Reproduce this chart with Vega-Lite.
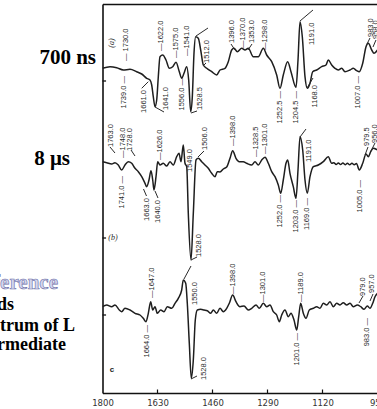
{
  "$schema": "https://vega.github.io/schema/vega-lite/v6.json",
  "autosize": {"type": "none"},
  "width": 275,
  "height": 389,
  "padding": {"left": 102.5, "top": 4, "right": 0, "bottom": 16},
  "background": "white",
  "config": {"view": {"stroke": null}, "axis": {"grid": false}},
  "resolve": {"axis": {"x": "independent", "y": "independent"}},
  "datasets": {
    "spectra": [
      {"trace":"a","wn":1800,"y":324.7},{"trace":"a","wn":1776.8,"y":326.3},{"trace":"a","wn":1756.1,"y":325.3},{"trace":"a","wn":1735.7,"y":323},{"trace":"a","wn":1715,"y":323.7},{"trace":"a","wn":1694.3,"y":321.3},{"trace":"a","wn":1678.8,"y":319},{"trace":"a","wn":1663.4,"y":314.7},{"trace":"a","wn":1653.2,"y":313},{"trace":"a","wn":1647.9,"y":308},{"trace":"a","wn":1643,"y":296.3},{"trace":"a","wn":1637.7,"y":286.3},{"trace":"a","wn":1632.5,"y":293},{"trace":"a","wn":1627.5,"y":316.3},{"trace":"a","wn":1622.3,"y":336.3},{"trace":"a","wn":1613.9,"y":338},{"trace":"a","wn":1603.7,"y":333},{"trace":"a","wn":1593.5,"y":324.7},{"trace":"a","wn":1583,"y":326.3},{"trace":"a","wn":1572.8,"y":330.7},{"trace":"a","wn":1562.6,"y":321.3},{"trace":"a","wn":1555.2,"y":314.7},{"trace":"a","wn":1548.1,"y":319.7},{"trace":"a","wn":1539.7,"y":326.3},{"trace":"a","wn":1533.6,"y":313},{"trace":"a","wn":1527.4,"y":281.3},{"trace":"a","wn":1522.4,"y":296.3},{"trace":"a","wn":1517.2,"y":339.7},{"trace":"a","wn":1511.9,"y":356.3},{"trace":"a","wn":1503.9,"y":354.7},{"trace":"a","wn":1496.5,"y":343},{"trace":"a","wn":1488.4,"y":328},{"trace":"a","wn":1477.9,"y":324.7},{"trace":"a","wn":1462.5,"y":321.3},{"trace":"a","wn":1447,"y":318},{"trace":"a","wn":1436.8,"y":323},{"trace":"a","wn":1421.4,"y":324.7},{"trace":"a","wn":1411.2,"y":331.3},{"trace":"a","wn":1400.7,"y":343},{"trace":"a","wn":1393.5,"y":344.7},{"trace":"a","wn":1383.3,"y":341.3},{"trace":"a","wn":1369.7,"y":344.7},{"trace":"a","wn":1359.5,"y":343},{"trace":"a","wn":1349.3,"y":344.7},{"trace":"a","wn":1333.9,"y":336.3},{"trace":"a","wn":1318.4,"y":336.3},{"trace":"a","wn":1303,"y":344.7},{"trace":"a","wn":1292.5,"y":338},{"trace":"a","wn":1277,"y":331.3},{"trace":"a","wn":1261.6,"y":318},{"trace":"a","wn":1251.4,"y":304.7},{"trace":"a","wn":1241.2,"y":318},{"trace":"a","wn":1227.6,"y":331.3},{"trace":"a","wn":1217.4,"y":321.3},{"trace":"a","wn":1201.9,"y":305.7},{"trace":"a","wn":1195.7,"y":333},{"trace":"a","wn":1189.5,"y":371.3},{"trace":"a","wn":1182.4,"y":356.3},{"trace":"a","wn":1174.1,"y":316.3},{"trace":"a","wn":1167,"y":304.7},{"trace":"a","wn":1158.6,"y":309.7},{"trace":"a","wn":1150.3,"y":321.3},{"trace":"a","wn":1137.9,"y":323},{"trace":"a","wn":1122.5,"y":326.3},{"trace":"a","wn":1109.2,"y":328},{"trace":"a","wn":1102.1,"y":333},{"trace":"a","wn":1091.6,"y":328},{"trace":"a","wn":1081.4,"y":324.7},{"trace":"a","wn":1071.2,"y":323},{"trace":"a","wn":1060.7,"y":324.7},{"trace":"a","wn":1050.5,"y":321.3},{"trace":"a","wn":1035,"y":323},{"trace":"a","wn":1024.8,"y":324.7},{"trace":"a","wn":1014.3,"y":322.3},{"trace":"a","wn":1006.3,"y":321.3},{"trace":"a","wn":995.7,"y":329.7},{"trace":"a","wn":985.5,"y":346.3},{"trace":"a","wn":978.4,"y":349.7},{"trace":"a","wn":967.9,"y":343},{"trace":"a","wn":960.8,"y":339.7},{"trace":"a","wn":950,"y":343},

      {"trace":"b","wn":1800,"y":231.3},{"trace":"b","wn":1787,"y":230.3},{"trace":"b","wn":1771.6,"y":229},{"trace":"b","wn":1761.4,"y":230.3},{"trace":"b","wn":1751.2,"y":228},{"trace":"b","wn":1740.7,"y":223},{"trace":"b","wn":1730.5,"y":228},{"trace":"b","wn":1720.3,"y":231.3},{"trace":"b","wn":1709.7,"y":229.7},{"trace":"b","wn":1699.5,"y":224.7},{"trace":"b","wn":1689.3,"y":221.3},{"trace":"b","wn":1678.8,"y":216.3},{"trace":"b","wn":1668.6,"y":209.7},{"trace":"b","wn":1663.4,"y":206.3},{"trace":"b","wn":1656.3,"y":213},{"trace":"b","wn":1650.1,"y":222.3},{"trace":"b","wn":1644.8,"y":213},{"trace":"b","wn":1640.8,"y":203},{"trace":"b","wn":1634.6,"y":216.3},{"trace":"b","wn":1629.4,"y":231.3},{"trace":"b","wn":1622.3,"y":228},{"trace":"b","wn":1612.1,"y":229.7},{"trace":"b","wn":1601.6,"y":227},{"trace":"b","wn":1591.4,"y":231.3},{"trace":"b","wn":1581.2,"y":228},{"trace":"b","wn":1570.7,"y":236.3},{"trace":"b","wn":1563.5,"y":239.7},{"trace":"b","wn":1557.4,"y":231.3},{"trace":"b","wn":1550.3,"y":248},{"trace":"b","wn":1545,"y":229.7},{"trace":"b","wn":1539.7,"y":226.3},{"trace":"b","wn":1534.8,"y":179.7},{"trace":"b","wn":1526.5,"y":133},{"trace":"b","wn":1519.3,"y":179.7},{"trace":"b","wn":1511,"y":233},{"trace":"b","wn":1503.9,"y":234.7},{"trace":"b","wn":1493.4,"y":231.3},{"trace":"b","wn":1483.2,"y":228},{"trace":"b","wn":1473,"y":224.7},{"trace":"b","wn":1462.5,"y":219.7},{"trace":"b","wn":1452.3,"y":216.3},{"trace":"b","wn":1445.2,"y":221.3},{"trace":"b","wn":1436.8,"y":221},{"trace":"b","wn":1426.6,"y":224},{"trace":"b","wn":1416.1,"y":226},{"trace":"b","wn":1405.9,"y":234.7},{"trace":"b","wn":1397.6,"y":242.3},{"trace":"b","wn":1387.4,"y":234.7},{"trace":"b","wn":1377.2,"y":231.3},{"trace":"b","wn":1364.8,"y":231.3},{"trace":"b","wn":1354.3,"y":229.7},{"trace":"b","wn":1338.8,"y":228},{"trace":"b","wn":1328.6,"y":231.3},{"trace":"b","wn":1318.4,"y":228},{"trace":"b","wn":1307.9,"y":233},{"trace":"b","wn":1297.7,"y":235.7},{"trace":"b","wn":1287.5,"y":229.7},{"trace":"b","wn":1277,"y":221.3},{"trace":"b","wn":1266.8,"y":216.3},{"trace":"b","wn":1256.6,"y":208},{"trace":"b","wn":1249.2,"y":199.7},{"trace":"b","wn":1241.2,"y":213},{"trace":"b","wn":1232.8,"y":229.7},{"trace":"b","wn":1227.6,"y":233},{"trace":"b","wn":1220.5,"y":219.7},{"trace":"b","wn":1210.3,"y":206.3},{"trace":"b","wn":1201.9,"y":194.7},{"trace":"b","wn":1195.7,"y":223},{"trace":"b","wn":1189.5,"y":256.3},{"trace":"b","wn":1181.2,"y":243},{"trace":"b","wn":1174.1,"y":213},{"trace":"b","wn":1167,"y":199.7},{"trace":"b","wn":1158.6,"y":216.3},{"trace":"b","wn":1148.4,"y":226.3},{"trace":"b","wn":1133,"y":228},{"trace":"b","wn":1117.5,"y":231.3},{"trace":"b","wn":1102.1,"y":236.3},{"trace":"b","wn":1091.6,"y":229.7},{"trace":"b","wn":1085,"y":230.3},{"trace":"b","wn":1078,"y":228.5},{"trace":"b","wn":1071,"y":230},{"trace":"b","wn":1064,"y":228.5},{"trace":"b","wn":1057,"y":230},{"trace":"b","wn":1050,"y":228.3},{"trace":"b","wn":1043,"y":229.8},{"trace":"b","wn":1036,"y":228.3},{"trace":"b","wn":1029,"y":229.8},{"trace":"b","wn":1022,"y":228.3},{"trace":"b","wn":1015,"y":229.5},{"trace":"b","wn":1006.3,"y":223},{"trace":"b","wn":995.7,"y":229.7},{"trace":"b","wn":985.5,"y":239},{"trace":"b","wn":978.4,"y":236.3},{"trace":"b","wn":971,"y":241.3},{"trace":"b","wn":963,"y":244.7},{"trace":"b","wn":950,"y":243},

      {"trace":"c","wn":1800,"y":86.3},{"trace":"c","wn":1787,"y":88},{"trace":"c","wn":1771.6,"y":86.3},{"trace":"c","wn":1761.4,"y":88},{"trace":"c","wn":1748.1,"y":83},{"trace":"c","wn":1740.7,"y":81.3},{"trace":"c","wn":1730.5,"y":84.7},{"trace":"c","wn":1715,"y":83},{"trace":"c","wn":1699.5,"y":79.7},{"trace":"c","wn":1684.1,"y":78},{"trace":"c","wn":1673.9,"y":74.7},{"trace":"c","wn":1665.5,"y":71.3},{"trace":"c","wn":1658.4,"y":79.7},{"trace":"c","wn":1651,"y":91.3},{"trace":"c","wn":1644.8,"y":83},{"trace":"c","wn":1637.7,"y":86.3},{"trace":"c","wn":1630.6,"y":79.7},{"trace":"c","wn":1620.1,"y":83},{"trace":"c","wn":1609.9,"y":81.3},{"trace":"c","wn":1599.7,"y":86.3},{"trace":"c","wn":1586.1,"y":84.7},{"trace":"c","wn":1575.9,"y":89.7},{"trace":"c","wn":1565.7,"y":94.7},{"trace":"c","wn":1555.2,"y":103},{"trace":"c","wn":1550.3,"y":113},{"trace":"c","wn":1542.8,"y":109.7},{"trace":"c","wn":1537.9,"y":89.7},{"trace":"c","wn":1531.7,"y":49.7},{"trace":"c","wn":1525.5,"y":14.7},{"trace":"c","wn":1519.3,"y":33},{"trace":"c","wn":1513.2,"y":73},{"trace":"c","wn":1507,"y":83},{"trace":"c","wn":1496.5,"y":83.7},{"trace":"c","wn":1486.3,"y":83},{"trace":"c","wn":1476.1,"y":82.3},{"trace":"c","wn":1465.6,"y":79.7},{"trace":"c","wn":1457.5,"y":83},{"trace":"c","wn":1447,"y":79.7},{"trace":"c","wn":1436.8,"y":84.7},{"trace":"c","wn":1426.6,"y":81.3},{"trace":"c","wn":1416.1,"y":84.7},{"trace":"c","wn":1408.1,"y":89.7},{"trace":"c","wn":1397.6,"y":98},{"trace":"c","wn":1387.4,"y":91.3},{"trace":"c","wn":1375,"y":86.3},{"trace":"c","wn":1362.6,"y":87},{"trace":"c","wn":1349.3,"y":83},{"trace":"c","wn":1338.8,"y":84.7},{"trace":"c","wn":1325.5,"y":88},{"trace":"c","wn":1315.4,"y":84.7},{"trace":"c","wn":1303,"y":89.7},{"trace":"c","wn":1292.5,"y":86.3},{"trace":"c","wn":1282.3,"y":88},{"trace":"c","wn":1272.1,"y":81.3},{"trace":"c","wn":1261.6,"y":78},{"trace":"c","wn":1253.5,"y":71.3},{"trace":"c","wn":1246.1,"y":78},{"trace":"c","wn":1235.9,"y":83},{"trace":"c","wn":1225.7,"y":76.3},{"trace":"c","wn":1217.4,"y":79.7},{"trace":"c","wn":1208.1,"y":73},{"trace":"c","wn":1199.7,"y":63},{"trace":"c","wn":1193.6,"y":76.3},{"trace":"c","wn":1187.4,"y":89.7},{"trace":"c","wn":1179.3,"y":79.7},{"trace":"c","wn":1171,"y":74.7},{"trace":"c","wn":1160.8,"y":83},{"trace":"c","wn":1148.4,"y":84.7},{"trace":"c","wn":1137.9,"y":86.3},{"trace":"c","wn":1127.7,"y":84.7},{"trace":"c","wn":1117.5,"y":89.7},{"trace":"c","wn":1107,"y":88},{"trace":"c","wn":1096.8,"y":91.3},{"trace":"c","wn":1086.6,"y":86.3},{"trace":"c","wn":1076.1,"y":89.7},{"trace":"c","wn":1065.9,"y":88},{"trace":"c","wn":1055.7,"y":90.3},{"trace":"c","wn":1045.2,"y":88},{"trace":"c","wn":1035,"y":89.7},{"trace":"c","wn":1024.8,"y":86.3},{"trace":"c","wn":1012.4,"y":88},{"trace":"c","wn":1001.9,"y":86.3},{"trace":"c","wn":991.7,"y":83.7},{"trace":"c","wn":981.5,"y":87},{"trace":"c","wn":973.2,"y":84.7},{"trace":"c","wn":964.8,"y":89.7},{"trace":"c","wn":957.7,"y":96.3},{"trace":"c","wn":950,"y":99.7}
    ],
    "labels": [
      {"t":"— 1730.0","wn":1727.4,"y":332,"side":"up"},
      {"t":"—1622.0","wn":1619.2,"y":342,"side":"up"},
      {"t":"—1575.0","wn":1572.8,"y":335,"side":"up"},
      {"t":"—1541.0","wn":1539.7,"y":337,"side":"up"},
      {"t":"1512.0","wn":1477,"y":330,"side":"up"},
      {"t":"1396.0","wn":1398.8,"y":350,"side":"up"},
      {"t":"—1370.0","wn":1366.7,"y":345,"side":"up"},
      {"t":"1353.0","wn":1336.4,"y":350,"side":"up"},
      {"t":"—1298.0","wn":1297.7,"y":343,"side":"up"},
      {"t":"1191.0","wn":1153.4,"y":348,"side":"up"},
      {"t":"983.0","wn":971.6,"y":356,"side":"up"},
      {"t":"958.0","wn":954.7,"y":354,"side":"up"},
      {"t":"1641.0","wn":1603.7,"y":283,"side":"up"},
      {"t":"1528.5","wn":1498.6,"y":283,"side":"up"},
      {"t":"1739.0 —","wn":1733.5,"y":317,"side":"down"},
      {"t":"1661.0","wn":1671.7,"y":303,"side":"down"},
      {"t":"1556.0 —","wn":1555.2,"y":315,"side":"down"},
      {"t":"1252.5 —","wn":1251.4,"y":302,"side":"down"},
      {"t":"1204.5 —","wn":1202.8,"y":302,"side":"down"},
      {"t":"1168.0","wn":1143.2,"y":308,"side":"down"},
      {"t":"1007.0 —","wn":1009.4,"y":317,"side":"down"},
      {"t":"1763.0","wn":1773.7,"y":246,"side":"up"},
      {"t":"—1748.0","wn":1735.7,"y":235,"side":"up"},
      {"t":"1728.0","wn":1715,"y":242,"side":"up"},
      {"t":"—1626.0","wn":1622.3,"y":233,"side":"up"},
      {"t":"1549.0","wn":1529.5,"y":221,"side":"up"},
      {"t":"1506.0","wn":1483.2,"y":243,"side":"up"},
      {"t":"—1398.0","wn":1397.6,"y":247,"side":"up"},
      {"t":"—1328.5","wn":1325.5,"y":236,"side":"up"},
      {"t":"—1301.0","wn":1297.7,"y":239,"side":"up"},
      {"t":"1191.0","wn":1161.7,"y":231,"side":"up"},
      {"t":"979.5","wn":981,"y":247,"side":"up"},
      {"t":"956.0","wn":957.7,"y":250,"side":"up"},
      {"t":"1528.0","wn":1501.7,"y":136,"side":"up"},
      {"t":"1741.0 —","wn":1740.7,"y":217,"side":"down"},
      {"t":"1663.0","wn":1664,"y":195,"side":"down"},
      {"t":"1640.0","wn":1628.5,"y":193,"side":"down"},
      {"t":"1252.0 —","wn":1251.4,"y":198,"side":"down"},
      {"t":"1203.0 —","wn":1201.9,"y":193,"side":"down"},
      {"t":"1169.0 —","wn":1167,"y":195,"side":"down"},
      {"t":"1005.0 —","wn":1004.1,"y":213,"side":"down"},
      {"t":"—1647.0","wn":1647.9,"y":95,"side":"up"},
      {"t":"1550.0","wn":1514.1,"y":88,"side":"up"},
      {"t":"—1398.0","wn":1397.6,"y":99,"side":"up"},
      {"t":"—1301.0","wn":1303,"y":91,"side":"up"},
      {"t":"—1189.0","wn":1186.5,"y":91,"side":"up"},
      {"t":"979.0","wn":993.9,"y":97,"side":"up"},
      {"t":"957.0","wn":967,"y":100,"side":"up"},
      {"t":"1528.0","wn":1487.8,"y":13,"side":"up"},
      {"t":"1664.0 —","wn":1663.4,"y":68,"side":"down"},
      {"t":"1201.0 —","wn":1199.7,"y":60,"side":"down"},
      {"t":"983.0 —","wn":982.5,"y":75,"side":"down"}
    ],
    "leaders": [
      {"wn":1678.8,"y":304.7,"wn2":1658.4,"y2":311.3},
      {"wn":1637.7,"y":286,"wn2":1609.9,"y2":281},
      {"wn":1526.5,"y":280,"wn2":1507.9,"y2":282},
      {"wn":1511,"y":357,"wn2":1473.9,"y2":365},
      {"wn":1402.8,"y":349,"wn2":1390.5,"y2":343},
      {"wn":1350.3,"y":343,"wn2":1337.9,"y2":349},
      {"wn":1189.5,"y":372,"wn2":1149.4,"y2":383},
      {"wn":1167.9,"y":305,"wn2":1149.4,"y2":315},
      {"wn":982.5,"y":349,"wn2":973.2,"y2":355},
      {"wn":963.9,"y":346,"wn2":954.7,"y2":353},
      {"wn":1489.4,"y":327,"wn2":1480.1,"y2":330},
      {"wn":1776.8,"y":246,"wn2":1761.4,"y2":240},
      {"wn":1711.9,"y":243,"wn2":1699.5,"y2":237},
      {"wn":1673.3,"y":204,"wn2":1664,"y2":197},
      {"wn":1637.7,"y":202,"wn2":1628.5,"y2":195},
      {"wn":1504.8,"y":236,"wn2":1486.3,"y2":242},
      {"wn":1526.5,"y":133,"wn2":1507.9,"y2":136},
      {"wn":1189.5,"y":256,"wn2":1171,"y2":264},
      {"wn":988.6,"y":238,"wn2":979.4,"y2":246},
      {"wn":970.1,"y":242,"wn2":957.7,"y2":250},
      {"wn":1548.1,"y":114,"wn2":1526.5,"y2":127},
      {"wn":1526.5,"y":14,"wn2":1507.9,"y2":17},
      {"wn":1007.2,"y":90,"wn2":994.8,"y2":97},
      {"wn":973.2,"y":92,"wn2":963.9,"y2":99}
    ],
    "zeros": [{"y":312},{"y":155},{"y":78}],
    "xticks": [{"wn":1630},{"wn":1460},{"wn":1290},{"wn":1120}],
    "tags": [
      {"t":"(a)","wn":1770.6,"y":350,"kind":"rot"},
      {"t":"(b)","wn":1767.5,"y":155,"kind":"flat"},
      {"t":"c","wn":1770.6,"y":23,"kind":"bold"}
    ],
    "notes": [
      {"t":"700 ns","wn":1820.1,"y":329,"grp":"time"},
      {"t":"8 μs","wn":1900.5,"y":228,"grp":"time"},
      {"t":"Difference","wn":1937.5,"y":104,"grp":"blue"},
      {"t":"bands","wn":2073.5,"y":83,"grp":"body"},
      {"t":"spectrum of L","wn":1885,"y":62,"grp":"body"},
      {"t":"intermediate","wn":1912.8,"y":43,"grp":"body"}
    ]
  },
  "layer": [
    {
      "data": {"name": "spectra"},
      "mark": {"type": "line", "color": "#1e1e1e", "strokeWidth": 1.5, "interpolate": "monotone", "clip": true},
      "encoding": {
        "x": {"field": "wn", "type": "quantitative",
          "scale": {"domain": [1800, 950], "nice": false, "zero": false},
          "axis": {"orient": "bottom", "values": [1800, 1630, 1460, 1290, 1120, 950], "ticks": false, "labelPadding": 5,
            "labelFont": "DejaVu Sans", "labelFontSize": 8.5, "labelColor": "#333", "labelFlush": false, "labelOverlap": false,
            "domainColor": "#111", "domainWidth": 1.6, "title": null, "grid": false, "format": "d"}},
        "y": {"field": "y", "type": "quantitative",
          "scale": {"domain": [0, 389], "nice": false, "zero": false},
          "axis": {"orient": "left", "labels": false, "ticks": false, "title": null, "grid": false, "domainColor": "#111", "domainWidth": 1.6}},
        "detail": {"field": "trace"}
      }
    },
    {
      "data": {"name": "leaders"},
      "mark": {"type": "rule", "color": "#2a2a2a", "strokeWidth": 1},
      "encoding": {
        "x": {"field": "wn", "type": "quantitative",
          "axis": {"orient": "top", "labels": false, "ticks": false, "title": null, "grid": false, "domainColor": "#111", "domainWidth": 1.6}},
        "x2": {"field": "wn2"},
        "y": {"field": "y", "type": "quantitative", "axis": null},
        "y2": {"field": "y2"}
      }
    },
    {
      "data": {"name": "zeros"},
      "mark": {"type": "rule", "color": "#111", "strokeWidth": 1.3},
      "encoding": {
        "x": {"datum": 1800, "type": "quantitative", "axis": null},
        "x2": {"datum": 1789},
        "y": {"field": "y", "type": "quantitative", "axis": null}
      }
    },
    {
      "data": {"name": "xticks"},
      "mark": {"type": "rule", "color": "#111", "strokeWidth": 1.2},
      "encoding": {
        "x": {"field": "wn", "type": "quantitative", "axis": null},
        "y": {"datum": 0, "type": "quantitative", "axis": null},
        "y2": {"datum": 3.5}
      }
    },
    {
      "data": {"name": "labels"},
      "transform": [{"filter": "datum.side === 'up'"}],
      "mark": {"type": "text", "angle": 270, "align": "left", "baseline": "middle", "font": "Liberation Sans", "fontSize": 7.5, "color": "#2a2a2a"},
      "encoding": {
        "x": {"field": "wn", "type": "quantitative", "axis": null},
        "y": {"field": "y", "type": "quantitative", "axis": null},
        "text": {"field": "t"}
      }
    },
    {
      "data": {"name": "labels"},
      "transform": [{"filter": "datum.side === 'down'"}],
      "mark": {"type": "text", "angle": 270, "align": "right", "baseline": "middle", "font": "Liberation Sans", "fontSize": 7.5, "color": "#2a2a2a"},
      "encoding": {
        "x": {"field": "wn", "type": "quantitative", "axis": null},
        "y": {"field": "y", "type": "quantitative", "axis": null},
        "text": {"field": "t"}
      }
    },
    {
      "data": {"name": "tags"},
      "transform": [{"filter": "datum.kind === 'rot'"}],
      "mark": {"type": "text", "angle": 270, "align": "center", "baseline": "middle", "font": "Liberation Serif", "fontStyle": "italic", "fontSize": 8, "color": "#2a2a2a"},
      "encoding": {
        "x": {"field": "wn", "type": "quantitative", "axis": null},
        "y": {"field": "y", "type": "quantitative", "axis": null},
        "text": {"field": "t"}
      }
    },
    {
      "data": {"name": "tags"},
      "transform": [{"filter": "datum.kind === 'flat'"}],
      "mark": {"type": "text", "align": "center", "baseline": "middle", "font": "Liberation Serif", "fontStyle": "italic", "fontSize": 8, "color": "#2a2a2a"},
      "encoding": {
        "x": {"field": "wn", "type": "quantitative", "axis": null},
        "y": {"field": "y", "type": "quantitative", "axis": null},
        "text": {"field": "t"}
      }
    },
    {
      "data": {"name": "tags"},
      "transform": [{"filter": "datum.kind === 'bold'"}],
      "mark": {"type": "text", "align": "center", "baseline": "middle", "font": "Liberation Sans", "fontWeight": "bold", "fontSize": 8, "color": "#222"},
      "encoding": {
        "x": {"field": "wn", "type": "quantitative", "axis": null},
        "y": {"field": "y", "type": "quantitative", "axis": null},
        "text": {"field": "t"}
      }
    },
    {
      "data": {"name": "notes"},
      "transform": [{"filter": "datum.grp === 'time'"}],
      "mark": {"type": "text", "align": "right", "baseline": "alphabetic", "font": "Liberation Serif", "fontWeight": "bold", "fontSize": 21, "color": "#000"},
      "encoding": {
        "x": {"field": "wn", "type": "quantitative", "axis": null},
        "y": {"field": "y", "type": "quantitative", "axis": null},
        "text": {"field": "t"}
      }
    },
    {
      "data": {"name": "notes"},
      "transform": [{"filter": "datum.grp === 'blue'"}],
      "mark": {"type": "text", "align": "right", "baseline": "alphabetic", "font": "Liberation Serif", "fontWeight": "bold", "fontSize": 21, "color": "#d4d6ee", "stroke": "#6d70a8", "strokeWidth": 0.6},
      "encoding": {
        "x": {"field": "wn", "type": "quantitative", "axis": null},
        "y": {"field": "y", "type": "quantitative", "axis": null},
        "text": {"field": "t"}
      }
    },
    {
      "data": {"name": "notes"},
      "transform": [{"filter": "datum.grp === 'body'"}],
      "mark": {"type": "text", "align": "right", "baseline": "alphabetic", "font": "Liberation Serif", "fontWeight": "bold", "fontSize": 18, "color": "#000"},
      "encoding": {
        "x": {"field": "wn", "type": "quantitative", "axis": null},
        "y": {"field": "y", "type": "quantitative", "axis": null},
        "text": {"field": "t"}
      }
    }
  ]
}
